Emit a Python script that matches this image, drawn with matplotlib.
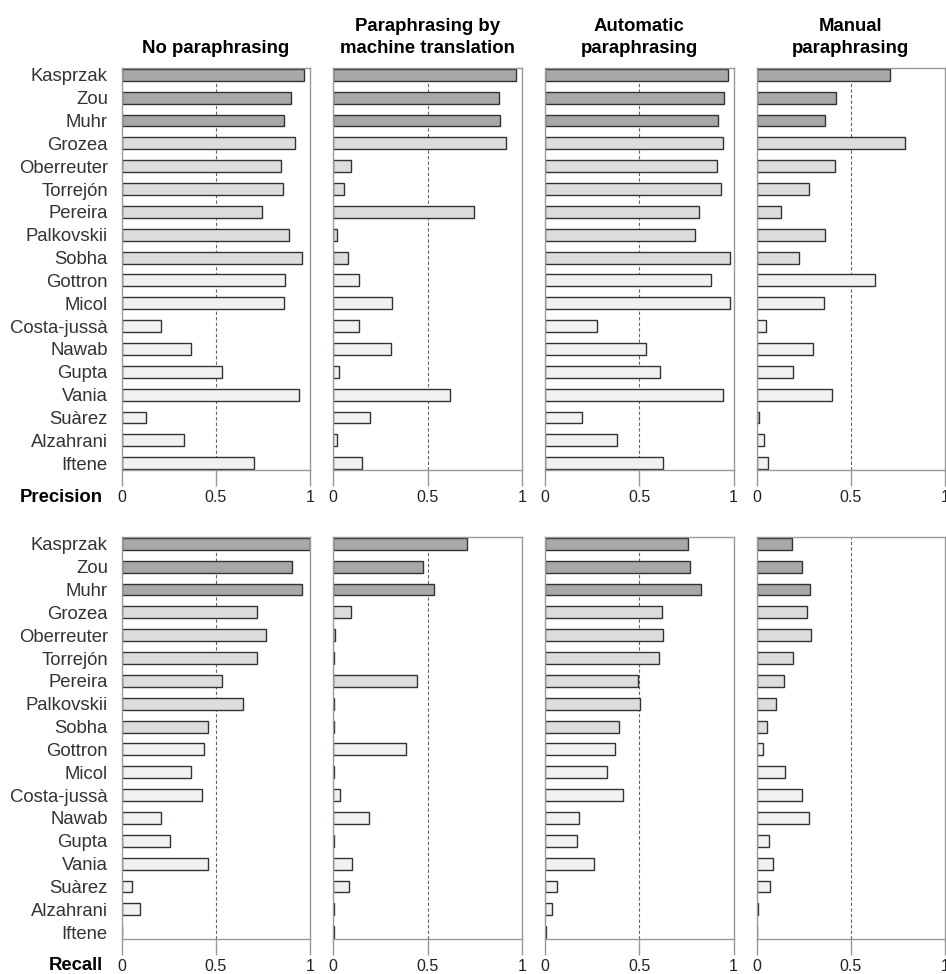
import numpy as np
import matplotlib.pyplot as plt

plt.rcParams['font.family'] = ['Liberation Sans', 'DejaVu Sans']

names = ['Kasprzak', 'Zou', 'Muhr', 'Grozea', 'Oberreuter', 'Torrejón', 'Pereira',
         'Palkovskii', 'Sobha', 'Gottron', 'Micol', 'Costa-jussà', 'Nawab', 'Gupta',
         'Vania', 'Suàrez', 'Alzahrani', 'Iftene']
titles = ['No paraphrasing', 'Paraphrasing by\nmachine translation',
          'Automatic\nparaphrasing', 'Manual\nparaphrasing']
row_labels = ['Precision', 'Recall']

# precision, one list per column
prec_none = [0.969, 0.896, 0.861, 0.918, 0.847, 0.854, 0.746, 0.889, 0.958,
             0.868, 0.863, 0.210, 0.369, 0.532, 0.942, 0.129, 0.329, 0.704]
prec_mt = [0.967, 0.881, 0.886, 0.918, 0.092, 0.058, 0.746, 0.021, 0.078,
           0.135, 0.311, 0.135, 0.304, 0.028, 0.621, 0.196, 0.021, 0.151]
prec_auto = [0.969, 0.948, 0.916, 0.943, 0.914, 0.934, 0.815, 0.797, 0.981,
             0.879, 0.981, 0.274, 0.534, 0.612, 0.944, 0.196, 0.382, 0.628]
prec_manual = [0.706, 0.422, 0.361, 0.788, 0.417, 0.279, 0.131, 0.361, 0.224,
               0.626, 0.357, 0.048, 0.300, 0.191, 0.401, 0.012, 0.037, 0.058]

# recall
rec_none = [1.0, 0.903, 0.957, 0.718, 0.764, 0.718, 0.534, 0.645, 0.458,
            0.435, 0.369, 0.426, 0.210, 0.256, 0.460, 0.054, 0.096, 0.004]
rec_mt = [0.709, 0.476, 0.533, 0.092, 0.008, 0.006, 0.442, 0.005, 0.005,
          0.384, 0.005, 0.037, 0.188, 0.005, 0.098, 0.085, 0.005, 0.005]
rec_auto = [0.757, 0.769, 0.826, 0.621, 0.628, 0.605, 0.491, 0.505, 0.394,
            0.373, 0.330, 0.415, 0.180, 0.170, 0.260, 0.065, 0.039, 0.004]
rec_manual = [0.189, 0.239, 0.283, 0.267, 0.290, 0.194, 0.146, 0.104, 0.055,
              0.033, 0.150, 0.240, 0.277, 0.066, 0.086, 0.070, 0.006, 0.004]

data = [[prec_none, prec_mt, prec_auto, prec_manual],
        [rec_none, rec_mt, rec_auto, rec_manual]]

colors = ['#a7a8aa'] * 3 + ['#dcdddf'] * 6 + ['#f0f1f2'] * 9

W, H = 946, 974
fig = plt.figure(figsize=(W / 100, H / 100), dpi=100)

lefts = [121.7, 333.3, 545.0, 756.7]
tops = [68, 537]
ax_w, ax_h = 188.5, 402

y = np.arange(len(names))
for r in range(2):
    for c in range(4):
        ax = fig.add_axes([lefts[c] / W, 1 - (tops[r] + ax_h) / H, ax_w / W, ax_h / H])
        ax.barh(y, data[r][c], height=0.52, color=colors, edgecolor='#333333',
                linewidth=1, zorder=2)
        ax.axvline(0.5, color='#666666', lw=0.8, ls=(0, (3, 2)), zorder=1)
        ax.set_xlim(0, 1)
        ax.set_ylim(len(names) - 0.7, -0.3)
        ax.set_xticks([0, 0.5, 1])
        ax.set_xticklabels(['0', '0.5', '1'])
        ax.tick_params(axis='x', length=11.5, width=1, color='#999999', pad=3,
                       labelsize=11.5, labelcolor='#222222')
        for s in ax.spines.values():
            s.set_color('#999999')
            s.set_linewidth(1)
        if c == 0:
            ax.set_yticks(y)
            ax.set_yticklabels(names)
            ax.tick_params(axis='y', length=0, pad=10, labelsize=13.3,
                           labelcolor='#333333')
        else:
            ax.set_yticks([])
        if r == 0:
            ax.set_title(titles[c], fontsize=13.4, fontweight='bold', pad=11,
                         linespacing=1.37)
    fig.text(103 / W, 1 - (tops[r] + ax_h + 27) / H, row_labels[r], ha='right',
             va='center', fontsize=13.3, fontweight='bold')

fig.savefig('out.png', dpi=100)
